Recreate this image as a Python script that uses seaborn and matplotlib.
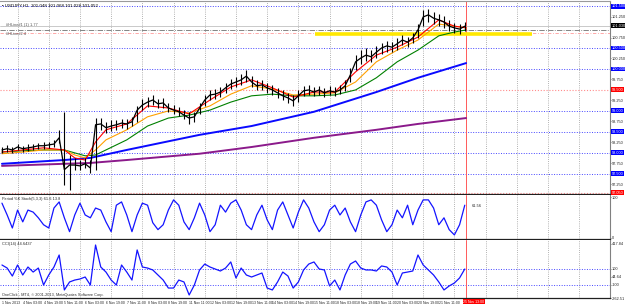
#USDJPY H1 chart in the MetaTrader style: candles + moving averages, Stochastic and CCI panes
import matplotlib
matplotlib.use("Agg")
import matplotlib.pyplot as plt
import matplotlib.transforms as mtransforms
import numpy as np
import pandas as pd
import seaborn as sns

# ---- data ----
bars = list(range(0, 357, 4))  # every 4th H1 bar
close = [98.07, 98.10, 98.07, 98.14, 98.10, 98.12, 98.14, 98.17, 98.17, 98.19,
         98.21, 98.36, 97.60, 97.71, 97.71, 97.69, 97.74, 97.64, 98.67, 98.69,
         98.60, 98.64, 98.67, 98.71, 98.69, 98.74, 99.02, 99.14, 99.21, 99.26,
         99.17, 99.19, 99.07, 99.02, 98.98, 98.90, 98.83, 98.86, 99.07, 99.26,
         99.38, 99.40, 99.45, 99.55, 99.64, 99.69, 99.74, 99.83, 99.69, 99.60,
         99.62, 99.55, 99.50, 99.43, 99.36, 99.31, 99.24, 99.36, 99.48, 99.50,
         99.45, 99.50, 99.43, 99.48, 99.45, 99.50, 99.60, 99.86, 100.17, 100.26,
         100.33, 100.29, 100.40, 100.50, 100.55, 100.52, 100.60, 100.69, 100.64, 100.74,
         100.93, 101.24, 101.29, 101.21, 101.17, 101.12, 101.02, 100.98, 100.95, 101.02]
high = [98.15, 98.18, 98.15, 98.22, 98.17, 98.20, 98.21, 98.24, 98.25, 98.26,
        98.30, 98.55, 98.98, 97.95, 97.88, 97.83, 97.88, 97.83, 98.83, 98.83,
        98.74, 98.79, 98.79, 98.81, 98.81, 98.86, 99.12, 99.29, 99.33, 99.38,
        99.29, 99.31, 99.19, 99.14, 99.10, 99.02, 98.98, 98.98, 99.19, 99.38,
        99.50, 99.52, 99.57, 99.67, 99.76, 99.81, 99.88, 99.98, 99.83, 99.74,
        99.74, 99.67, 99.62, 99.55, 99.50, 99.43, 99.38, 99.50, 99.60, 99.62,
        99.57, 99.60, 99.55, 99.60, 99.57, 99.62, 99.74, 100.02, 100.33, 100.45,
        100.50, 100.45, 100.55, 100.62, 100.67, 100.64, 100.74, 100.81, 100.76, 100.86,
        101.07, 101.40, 101.43, 101.36, 101.31, 101.26, 101.17, 101.10, 101.07, 101.12]
low = [97.99, 98.02, 98.00, 98.06, 98.03, 98.05, 98.07, 98.10, 98.09, 98.12,
       98.14, 98.24, 97.24, 97.12, 97.60, 97.60, 97.64, 97.52, 97.60, 98.55,
       98.48, 98.52, 98.55, 98.60, 98.57, 98.64, 98.74, 99.02, 99.10, 99.14,
       99.07, 99.07, 98.98, 98.93, 98.88, 98.81, 98.69, 98.74, 98.93, 99.12,
       99.26, 99.29, 99.33, 99.43, 99.52, 99.57, 99.62, 99.69, 99.57, 99.50,
       99.50, 99.43, 99.38, 99.31, 99.26, 99.19, 99.12, 99.21, 99.36, 99.38,
       99.36, 99.38, 99.33, 99.38, 99.36, 99.40, 99.48, 99.69, 99.98, 100.12,
       100.19, 100.17, 100.26, 100.36, 100.40, 100.40, 100.45, 100.57, 100.52, 100.62,
       100.74, 101.02, 101.12, 101.07, 101.02, 100.98, 100.90, 100.86, 100.83, 100.90]

ma_bars = [0, 16, 32, 48, 56, 64, 72, 80, 96, 112, 128, 144, 160, 176, 192, 208,
           224, 240, 256, 272, 288, 304, 320, 336, 348, 357]
ma_red = [98.02, 98.07, 98.12, 98.07, 97.88, 97.83, 98.26, 98.55, 98.69, 99.12,
          99.07, 98.93, 99.26, 99.57, 99.74, 99.55, 99.33, 99.45, 99.45, 99.93,
          100.33, 100.52, 100.76, 101.17, 101.02, 100.98]
ma_orange = [97.98, 98.02, 98.07, 98.07, 97.95, 97.88, 98.07, 98.31, 98.55, 98.86,
             99.00, 98.95, 99.12, 99.40, 99.60, 99.52, 99.38, 99.40, 99.43, 99.69,
             100.17, 100.45, 100.69, 101.07, 101.02, 100.98]
ma_green = [98.02, 98.05, 98.07, 98.07, 98.00, 97.93, 97.95, 98.07, 98.31, 98.64,
            98.83, 98.90, 99.02, 99.21, 99.36, 99.40, 99.36, 99.36, 99.38, 99.50,
            99.79, 100.17, 100.45, 100.79, 100.88, 100.93]
slow_bars = [0, 48, 68, 96, 152, 192, 240, 288, 320, 357]
ma_blue = [97.74, 97.83, 97.88, 98.07, 98.43, 98.64, 98.98, 99.45, 99.79, 100.14]
ma_purple = [97.69, 97.74, 97.76, 97.83, 97.98, 98.14, 98.36, 98.55, 98.69, 98.83]

stoch = [85, 56, 24, 68, 39, 68, 63, 49, 32, 24,
         73, 88, 49, 15, 56, 85, 56, 49, 73, 68,
         39, 15, 80, 88, 56, 15, 56, 85, 80, 37,
         20, 32, 68, 93, 80, 39, 20, 49, 85, 56,
         15, 32, 80, 63, 85, 93, 68, 32, 20, 56,
         80, 44, 20, 68, 88, 56, 24, 63, 93, 73,
         39, 15, 32, 68, 80, 56, 73, 39, 15, 56,
         88, 93, 80, 44, 15, 32, 68, 49, 80, 32,
         68, 93, 93, 73, 32, 49, 20, 7, 32, 80]
cci = [150, 112, 12, 150, 25, 125, 62, 112, -100, 25,
       125, 275, -162, -62, -38, -25, 0, -100, 400, 125,
       62, -38, -100, 150, 62, -38, 338, 125, 112, 88,
       25, -38, -138, -138, -38, -62, -225, -100, 88, 162,
       125, 100, 75, 112, 188, -12, 112, 25, 0, 25,
       50, -138, -162, -62, 62, 12, -138, -62, 88, 162,
       188, 100, 88, -112, -38, -162, 25, 162, 200, 112,
       88, 88, 75, 138, 125, 62, -100, 50, 62, 75,
       275, 150, 88, 25, -62, -162, -112, -75, -12, 100]

time_labels = ["1 Nov 2013", "4 Nov 03:00", "4 Nov 19:00", "5 Nov 11:00", "6 Nov 03:00",
               "6 Nov 19:00", "7 Nov 11:00", "8 Nov 03:00", "8 Nov 19:00", "11 Nov 11:00",
               "12 Nov 03:00", "12 Nov 19:00", "13 Nov 11:00", "14 Nov 03:00", "14 Nov 19:00",
               "15 Nov 11:00", "18 Nov 03:00", "18 Nov 19:00", "19 Nov 11:00", "20 Nov 03:00",
               "20 Nov 19:00", "21 Nov 11:00"]
label_bars = list(range(0, 337, 16))
last_bar = 357
blue_levels = [101.5, 100.5, 100.0, 99.0, 98.5, 98.0, 97.5]
red_levels = [99.5, 97.05]
price_ticks = [101.25, 100.75, 100.25, 99.75, 99.25, 98.75, 98.25, 97.75, 97.25]
bid = 101.03
ask_line = 100.93
support = 100.86

# ---- figure ----
sns.set_style("white")
plt.rcParams['font.family'] = ['Liberation Sans Narrow', 'Liberation Sans', 'DejaVu Sans']
W, H = 625, 307
fig = plt.figure(figsize=(W / 100, H / 100), dpi=100)
FS = 2.8   # MT4 tiny text

def pane(top, bottom):
    return fig.add_axes([0, (H - bottom) / H, 610 / W, (bottom - top) / H])

ax = pane(1, 194)
ax_st = pane(195, 239)
ax_cci = pane(240, 298)

dot = (0, (1, 1.6))
for a in (ax, ax_st, ax_cci):
    a.set_xlim(-1.5, 467.7)
    for b in range(12, 468, 24):
        a.axvline(b, color="#9a9a9a", lw=0.6, ls=dot, zorder=0)
    a.axvline(last_bar, color="#ff5a5a", lw=0.7, zorder=1)
    a.spines["left"].set_visible(False)
    a.spines["top"].set_visible(False)
    a.spines["right"].set_color("#808080")
    a.spines["right"].set_linewidth(0.8)
    a.spines["bottom"].set_color("#202020")
    a.spines["bottom"].set_linewidth(0.9)
    a.yaxis.tick_right()
    a.tick_params(axis="y", labelsize=FS, length=1.0, width=0.4, pad=0.5)
    a.set_xlabel("")
    a.set_ylabel("")
ax.spines["top"].set_visible(True)
ax.spines["top"].set_color("#9a9a9a")

# main price pane
ax.set_ylim(97.02, 101.62)
for lv in blue_levels:
    ax.axhline(lv, color="#4646ff", lw=0.7, ls=dot, zorder=0)
for lv in red_levels:
    ax.axhline(lv, color="#ff8c8c", lw=0.8, ls=dot, zorder=0)
ax.axhline(bid, color="#b4b4b4", lw=0.5)
ax.axhline(ask_line, color="#707070", lw=0.6, ls="-.")
ax.axhline(support, color="#ff9a9a", lw=0.6, ls=(0, (4, 2, 1, 2)))
ax.hlines(support - 0.03, 241, 408, color="#ffe800", lw=2.6, zorder=2)

sns.lineplot(x=slow_bars, y=ma_purple, ax=ax, color="#8b1a8b", lw=1.4)
sns.lineplot(x=slow_bars, y=ma_blue, ax=ax, color="#0a0aff", lw=1.4)
sns.lineplot(x=ma_bars, y=ma_green, ax=ax, color="#008000", lw=0.8)
sns.lineplot(x=ma_bars, y=ma_orange, ax=ax, color="#ffa000", lw=0.8)
sns.lineplot(x=ma_bars, y=ma_red, ax=ax, color="#ff0000", lw=0.8)
ax.vlines(bars, low, high, color="black", lw=0.8, zorder=3)
sns.lineplot(x=bars, y=close, ax=ax, color="black", lw=0.9, zorder=3)

ax.set_yticks(price_ticks)
ax.set_yticklabels(["%.3f" % t for t in price_ticks])
ax.set_xticks([])
ytr = mtransforms.blended_transform_factory(ax.transAxes, ax.transData)
box_kw = dict(transform=ytr, fontsize=FS, color="white", va="center", ha="left")
for lv in blue_levels:
    ax.text(1.003, lv, "%.3f" % lv, bbox=dict(boxstyle="square,pad=0.12", fc="#0000ff", ec="none"), **box_kw)
for lv in red_levels:
    ax.text(1.003, lv, "%.3f" % lv, bbox=dict(boxstyle="square,pad=0.12", fc="#ff0000", ec="none"), **box_kw)
ax.text(1.003, bid, "%.3f" % bid, bbox=dict(boxstyle="square,pad=0.12", fc="black", ec="none"), **box_kw)
ax.text(0.004, 0.985, "\u25aa USDJPY,H1  101.048 101.068 101.028 101.052", transform=ax.transAxes,
        fontsize=FS + 0.4, va="top", ha="left", color="black")
ax.text(0.01, bid + 0.01, "#HLine#1 (1) 1.77", transform=ytr, fontsize=FS, va="center", color="#505050")
ax.text(0.01, support - 0.02, "#HLine#2 4", transform=ytr, fontsize=FS, va="center", color="#505050")

# stochastic pane
ax_st.set_ylim(-3, 105)
sns.lineplot(x=bars, y=stoch, ax=ax_st, color="#1414ff", lw=0.9)
ax_st.set_yticks([100, 0])
ax_st.set_yticklabels(["100", "0"])
ax_st.set_xticks([])
ax_st.text(0.004, 0.96, "Period %K Stoch(5,3,3) 61.6 13.8", transform=ax_st.transAxes,
           fontsize=FS, va="top", ha="left")
ax_st.text(last_bar + 4, 78, "61.56", fontsize=FS, va="center", ha="left")

# CCI pane
ax_cci.set_ylim(-262.5, 462.5)
for lv in (100, -100):
    ax_cci.axhline(lv, color="#4646ff", lw=0.7, ls=dot, zorder=0)
sns.lineplot(x=bars, y=cci, ax=ax_cci, color="#1414ff", lw=0.9)
ax_cci.set_yticks([417.84, 100, 0, -100, -262.5])
ax_cci.set_yticklabels(["417.84", "100", "44.64", "-100", "-262.51"])
ax_cci.text(0.004, 0.97, "CCI(14) 44.6437", transform=ax_cci.transAxes,
            fontsize=FS, va="top", ha="left")
ax_cci.text(0.004, 0.02, "OneClick - MT4, \u00a9 2001-2013, MetaQuotes Software Corp.",
            transform=ax_cci.transAxes, fontsize=FS, va="bottom", ha="left", color="#303030")
ax_cci.set_xticks(label_bars)
ax_cci.set_xticklabels(time_labels, fontsize=2.5, ha="left")
ax_cci.tick_params(axis="x", length=1.5, width=0.4, pad=0.8)
ax_cci.text(last_bar - 2, -0.03, "25 Nov 13:00", transform=mtransforms.blended_transform_factory(
    ax_cci.transData, ax_cci.transAxes), fontsize=2.5, color="white", va="top", ha="left",
    bbox=dict(boxstyle="square,pad=0.12", fc="#ff0000", ec="none"))

fig.savefig("out.png", dpi=100)
